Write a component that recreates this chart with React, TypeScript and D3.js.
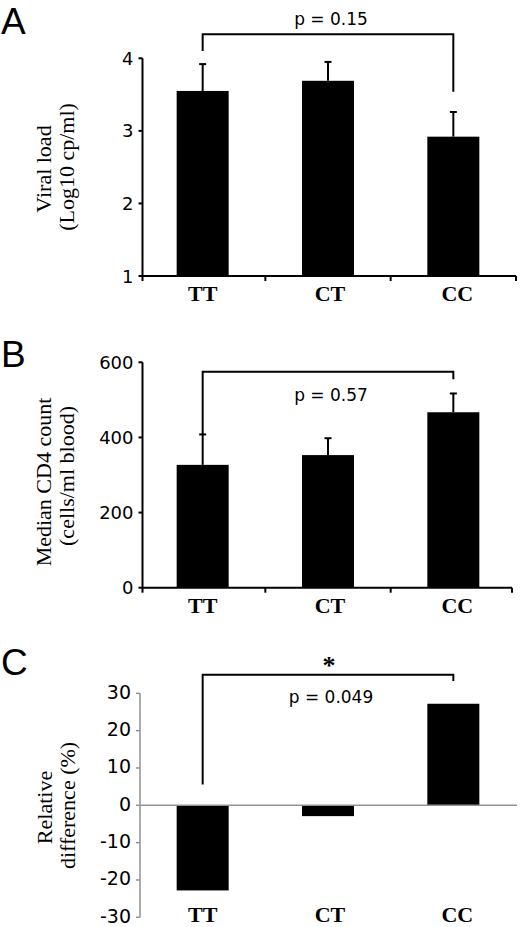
import React from "react";
import * as d3 from "d3";

// ---- data ----
const categories = ["TT", "CT", "CC"];
const viralLoad = [3.55, 3.69, 2.92];
const viralLoadUpper = [3.92, 3.95, 3.26];
const cd4Count = [327, 353, 467];
const cd4Upper = [408, 398, 517];
const relDiff = [-22.8, -2.9, 27.2];
const ticksA = [1, 2, 3, 4];
const ticksB = [0, 200, 400, 600];
const ticksC = [-30, -20, -10, 0, 10, 20, 30];
const pLabels = ["p = 0.15", "p = 0.57", "p = 0.049"];
// bracket [left end, top, right end] in data units
const bracketA = [4.1, 4.33, 3.54];
const bracketB = [409, 575, 555];
const bracketC = [5.6, 35, 33.3];

const SERIF = "'Liberation Serif', 'Times New Roman', serif";
const SANS = "'DejaVu Sans', Verdana, sans-serif";
const ARIAL = "'Liberation Sans', Arial, sans-serif";

type PanelProps = {
  letter: string;
  letterY: number;
  values: number[];
  upper?: number[];
  ticks: number[];
  domain: [number, number];
  range: [number, number];
  axisX: number;
  axisColor: string;
  tickFont: number;
  tickDy: number;
  xAxisRight: number;
  zeroBase: boolean;
  xTicks: boolean;
  titles: string[];
  titleX: number[];
  titleY: number[];
  bracket: number[];
  pLabel: string;
  pY: number;
  catY: number;
  star?: boolean;
};

const x = d3
  .scaleBand<string>()
  .domain(categories)
  .range([140, 516])
  .paddingInner(0.585)
  .paddingOuter(0.2925);

function Panel(p: PanelProps) {
  const y = d3.scaleLinear().domain(p.domain).range(p.range);
  const base = p.zeroBase ? y(0) : y(p.domain[0]);
  const bw = x.bandwidth();
  const cx = (c: string) => (x(c) as number) + bw / 2;
  const boundaries = categories.map(
    (c) => (x(c) as number) + bw + (x.step() * x.paddingInner()) / 2
  );
  const lx = cx(categories[0]);
  const rx = cx(categories[categories.length - 1]);
  return (
    <g>
      <text x={1} y={p.letterY} fontFamily={ARIAL} fontSize={37} fill="#000">
        {p.letter}
      </text>
      {/* y axis titles */}
      {p.titles.map((t, i) => (
        <text
          key={t}
          transform={`translate(${p.titleX[i]},${p.titleY[i]}) rotate(-90)`}
          textAnchor="middle"
          fontFamily={SERIF}
          fontSize={22}
          fill="#000"
        >
          {t}
        </text>
      ))}
      {/* bars */}
      {categories.map((c, i) => {
        const v = y(p.values[i]);
        return (
          <rect
            key={c}
            x={x(c)}
            y={Math.min(v, base)}
            width={bw}
            height={Math.abs(base - v)}
            fill="#000"
          />
        );
      })}
      {/* error bars */}
      {p.upper &&
        categories.map((c, i) => (
          <g key={"e" + c} stroke="#000" strokeWidth={2}>
            <line x1={cx(c)} x2={cx(c)} y1={y(p.values[i])} y2={y(p.upper![i])} />
            <line x1={cx(c) - 3.5} x2={cx(c) + 3.5} y1={y(p.upper![i])} y2={y(p.upper![i])} />
          </g>
        ))}
      {/* y axis */}
      <line
        x1={p.axisX}
        x2={p.axisX}
        y1={y(p.domain[1])}
        y2={y(p.domain[0])}
        stroke={p.axisColor}
        strokeWidth={p.zeroBase ? 1.5 : 2}
      />
      {p.ticks.map((t) => (
        <g key={t}>
          <line
            x1={p.axisX - 4}
            x2={p.axisX}
            y1={y(t)}
            y2={y(t)}
            stroke={p.axisColor}
            strokeWidth={p.zeroBase ? 1.5 : 2}
          />
          <text
            x={p.axisX - 9}
            y={y(t) + p.tickDy}
            textAnchor="end"
            dominantBaseline="central"
            fontFamily={SANS}
            fontSize={p.tickFont}
            fill="#000"
          >
            {t}
          </text>
        </g>
      ))}
      {/* x axis */}
      <line
        x1={p.axisX}
        x2={p.xAxisRight}
        y1={base}
        y2={base}
        stroke={p.axisColor}
        strokeWidth={p.zeroBase ? 1.5 : 2}
      />
      {p.xTicks &&
        [p.axisX, ...boundaries.slice(0, 2), p.xAxisRight].map((b, i) => (
          <line key={i} x1={b} x2={b} y1={base} y2={base + 5} stroke="#000" strokeWidth={2} />
        ))}
      {/* category labels */}
      {categories.map((c, i) => (
        <text
          key={"l" + c}
          x={cx(c) + i * 2}
          y={p.catY}
          textAnchor="middle"
          fontFamily={SERIF}
          fontWeight="bold"
          fontSize={22}
          fill="#000"
        >
          {c}
        </text>
      ))}
      {/* bracket */}
      <path
        d={`M${lx},${y(p.bracket[0])}V${y(p.bracket[1])}H${rx}V${y(p.bracket[2])}`}
        fill="none"
        stroke="#000"
        strokeWidth={2}
      />
      <text
        x={(lx + rx) / 2 + 3}
        y={p.pY}
        textAnchor="middle"
        fontFamily={SANS}
        fontSize={17}
        fill="#000"
      >
        {p.pLabel}
      </text>
      {p.star && (
        <text
          x={(lx + rx) / 2 + 1}
          y={674}
          textAnchor="middle"
          fontFamily={SERIF}
          fontWeight="bold"
          fontSize={26}
          fill="#000"
        >
          *
        </text>
      )}
    </g>
  );
}

export default function App() {
  return (
    <svg
      width={520}
      height={927}
      style={{ position: "absolute", left: 0, top: 0, background: "#fff" }}
    >
      <rect width={520} height={927} fill="#fff" />
      <Panel
        letter="A"
        letterY={34}
        values={viralLoad}
        upper={viralLoadUpper}
        ticks={ticksA}
        domain={[1, 4]}
        range={[276, 58.3]}
        axisX={142.5}
        axisColor="#000"
        tickFont={18}
        tickDy={0}
        xAxisRight={516}
        zeroBase={false}
        xTicks={true}
        titles={["Viral load", "(Log10 cp/ml)"]}
        titleX={[51, 74]}
        titleY={[169, 167]}
        bracket={bracketA}
        pLabel={pLabels[0]}
        pY={25}
        catY={300.5}
      />
      <Panel
        letter="B"
        letterY={367}
        values={cd4Count}
        upper={cd4Upper}
        ticks={ticksB}
        domain={[0, 600]}
        range={[587.7, 362.3]}
        axisX={142.5}
        axisColor="#000"
        tickFont={18}
        tickDy={0}
        xAxisRight={512}
        zeroBase={false}
        xTicks={true}
        titles={["Median CD4 count", "(cells/ml blood)"]}
        titleX={[51, 74]}
        titleY={[482, 476]}
        bracket={bracketB}
        pLabel={pLabels[1]}
        pY={401}
        catY={613}
      />
      <Panel
        letter="C"
        letterY={675}
        values={relDiff}
        ticks={ticksC}
        domain={[-30, 30]}
        range={[917.3, 693.3]}
        axisX={140}
        axisColor="#929292"
        tickFont={19}
        tickDy={-1.5}
        xAxisRight={517}
        zeroBase={true}
        xTicks={false}
        titles={["Relative", "difference  (%)"]}
        titleX={[52, 75]}
        titleY={[807.5, 805.5]}
        bracket={bracketC}
        pLabel={pLabels[2]}
        pY={703}
        catY={922}
        star={true}
      />
    </svg>
  );
}
